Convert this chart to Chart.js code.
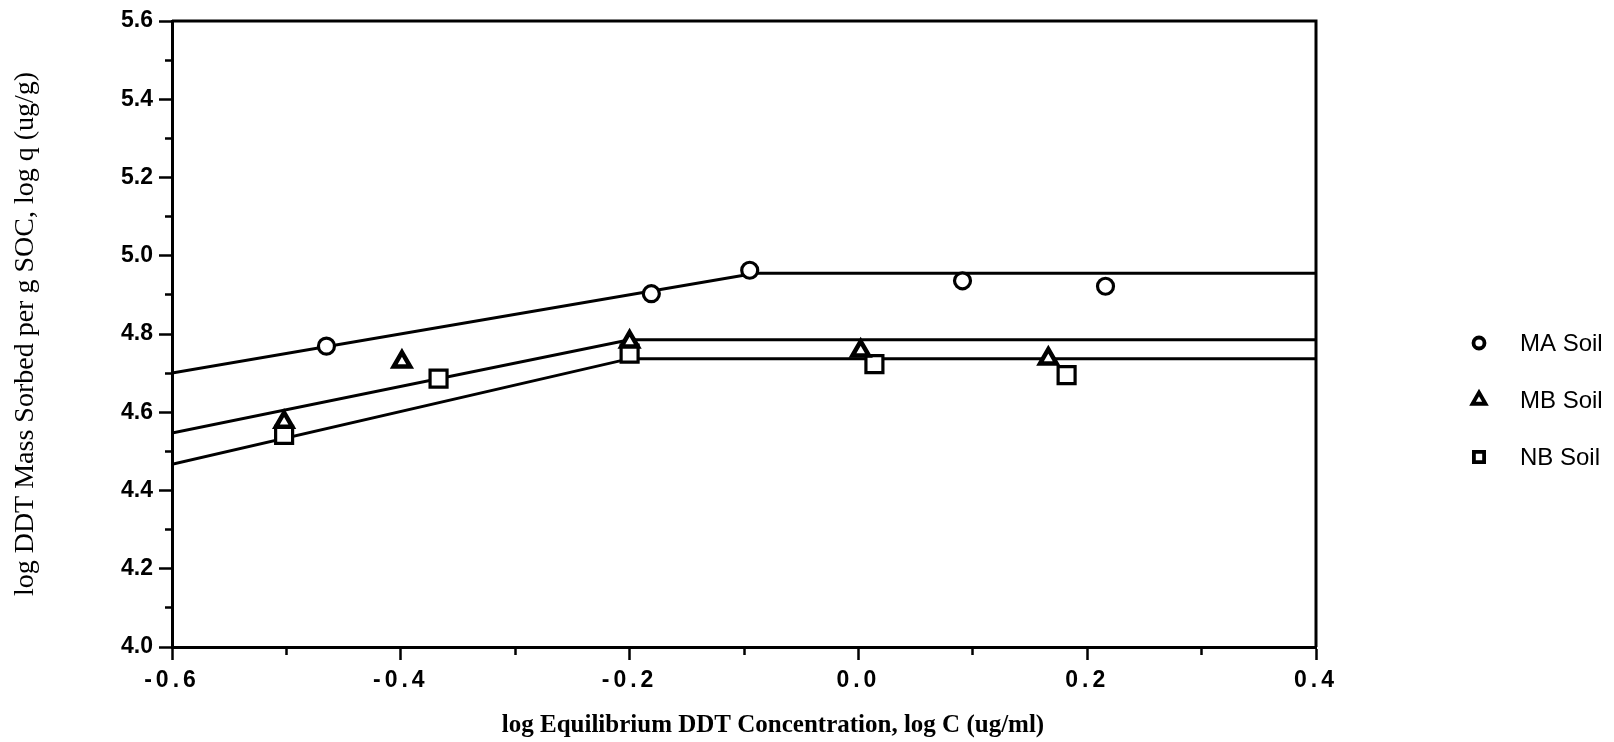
<!DOCTYPE html>
<html>
<head>
<meta charset="utf-8">
<script src="https://cdn.jsdelivr.net/npm/chart.js@4/dist/chart.umd.min.js"></script>
<style>
html,body{margin:0;padding:0;background:#fff}
canvas{display:block}
</style>
</head>
<body>
<canvas id="grafico" width="1614" height="742"></canvas>
<script>

// pontos medidos (log C, log q)
const maX=[-0.465,-0.181,-0.095,0.091,0.216]
const maY=[4.769,4.903,4.963,4.936,4.922]
const mbX=[-0.502,-0.399,-0.200,0.002,0.166]
const mbY=[4.575,4.729,4.780,4.757,4.737]
const nbX=[-0.502,-0.367,-0.200,0.014,0.182]
const nbY=[4.542,4.686,4.750,4.723,4.695]

// retas ajustadas: subida e patamar
const maRetaX=[-0.6,-0.09,0.4]
const maRetaY=[4.700,4.955,4.955]
const mbRetaX=[-0.6,-0.2,0.4]
const mbRetaY=[4.547,4.785,4.785]
const nbRetaX=[-0.6,-0.2,0.4]
const nbRetaY=[4.467,4.737,4.737]

const nomes=['MA Soil','MB Soil','NB Soil']
const xTicks=['-0.6','-0.4','-0.2','0.0','0.2','0.4']
const yTicks=['4.0','4.2','4.4','4.6','4.8','5.0','5.2','5.4','5.6']

const tituloX='log Equilibrium DDT Concentration, log C (ug/ml)'
const tituloY='log DDT Mass Sorbed per g SOC, log q (ug/g)'

function pares(xs,ys){return xs.map((x,i)=>({x:x,y:ys[i]}))}

function rotulo(v,lista){
let r=lista.find(t=>Math.abs(parseFloat(t)-v)<1e-6)
return r===undefined?'':r
}

function maior(v){return Math.abs(v*5-Math.round(v*5))<1e-6}

function pontos(label,xs,ys,estilo,raio,borda){
return{
label:label,
data:pares(xs,ys),
showLine:false,
pointStyle:estilo,
pointRadius:raio,
pointHoverRadius:raio,
pointBorderWidth:borda,
pointBorderColor:'#000',
pointBackgroundColor:'#fff'
}
}

function reta(xs,ys){
return{
data:pares(xs,ys),
showLine:true,
borderColor:'#000',
borderWidth:3,
pointRadius:0,
pointHoverRadius:0,
fill:false
}
}

// marcador da legenda
function marca(ctx,estilo,r,x,y){
ctx.beginPath()
if(estilo=='circle'){
ctx.arc(x,y,r,0,Math.PI*2)
}else if(estilo=='triangle'){
ctx.moveTo(x,y-r)
ctx.lineTo(x+r*0.866,y+r*0.5)
ctx.lineTo(x-r*0.866,y+r*0.5)
ctx.closePath()
}else{
let s=r*Math.SQRT1_2
ctx.rect(x-s,y-s,2*s,2*s)
}
ctx.fill()
ctx.stroke()
}

// moldura, legenda e titulo do eixo x
const extras={
id:'extras',
afterLayout(chart){
let x=chart.scales.x
if(x&&!x._espacado){
let orig=x.drawLabels
x.drawLabels=function(area){
chart.ctx.save()
chart.ctx.letterSpacing='4px'
orig.call(this,area)
chart.ctx.restore()
}
x._espacado=true
}
},
afterDraw(chart){
let ctx=chart.ctx
let a=chart.chartArea
ctx.save()
ctx.strokeStyle='#000'
ctx.lineWidth=3
ctx.beginPath()
ctx.moveTo(a.left,a.top)
ctx.lineTo(a.right,a.top)
ctx.lineTo(a.right,a.bottom)
ctx.stroke()

ctx.fillStyle='#000'
ctx.font='bold 25px "Liberation Serif"'
ctx.textAlign='center'
ctx.textBaseline='middle'
ctx.fillText(tituloX,(a.left+a.right)/2+29,726)

let estilos=[['circle',5.5],['triangle',7.5],['rect',7.2]]
ctx.font='24px "Liberation Sans"'
ctx.textAlign='left'
nomes.forEach((n,i)=>{
let y=343+i*57
ctx.fillStyle='#fff'
ctx.strokeStyle='#000'
ctx.lineWidth=3.8
marca(ctx,estilos[i][0],estilos[i][1],1479,y)
ctx.fillStyle='#000'
ctx.fillText(n,1520,y+1)
})
ctx.restore()
}
}

const fonteTick={family:'Liberation Sans',size:23,weight:'bold'}

new Chart(document.getElementById('grafico'),{
type:'scatter',
data:{
datasets:[
pontos(nomes[0],maX,maY,'circle',8,3.2),
pontos(nomes[1],mbX,mbY,'triangle',9.5,4.5),
pontos(nomes[2],nbX,nbY,'rect',12,3.2),
reta(maRetaX,maRetaY),
reta(mbRetaX,mbRetaY),
reta(nbRetaX,nbRetaY)
]
},
plugins:[extras],
options:{
responsive:false,
animation:false,
devicePixelRatio:1,
events:[],
layout:{padding:{top:21,right:298,left:0,bottom:0}},
plugins:{legend:{display:false},tooltip:{enabled:false}},
scales:{
x:{
type:'linear',
min:-0.6,
max:0.4,
afterFit:s=>{s.height=95},
border:{display:true,color:'#000',width:3},
grid:{
drawOnChartArea:false,
drawTicks:true,
tickLength:13,
tickWidth:2.5,
tickColor:'#000',
tickBorderDash:c=>maior(c.tick.value)?[]:[6,100]
},
ticks:{
stepSize:0.1,
autoSkip:false,
maxRotation:0,
padding:7,
color:'#000',
font:fonteTick,
callback:v=>rotulo(v,xTicks)
}
},
y:{
type:'linear',
min:4.0,
max:5.6,
afterFit:s=>{s.width=172},
border:{display:true,color:'#000',width:3},
grid:{
drawOnChartArea:false,
drawTicks:true,
tickLength:13,
tickWidth:2.5,
tickColor:'#000',
tickBorderDash:c=>maior(c.tick.value)?[]:[6,6],
tickBorderDashOffset:c=>maior(c.tick.value)?0:6
},
ticks:{
stepSize:0.1,
autoSkip:false,
padding:6,
color:'#000',
font:fonteTick,
callback:v=>rotulo(v,yTicks)
},
title:{
display:true,
text:tituloY,
color:'#000',
padding:{top:9,bottom:0},
font:{family:'Liberation Serif',size:28,weight:'normal'}
}
}
}
}
})

</script>
</body>
</html>
